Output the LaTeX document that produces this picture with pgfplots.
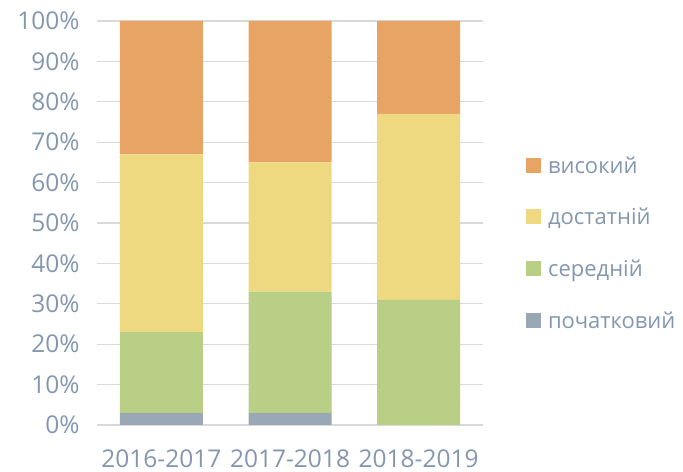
\documentclass[border=0pt]{standalone}
\usepackage{pgfplots}
\pgfplotsset{compat=1.18}
\usepackage{fontspec}
\setmainfont{Open Sans}
\definecolor{txt}{HTML}{8497B0}
\definecolor{gridc}{HTML}{D9D9D9}
\definecolor{cpoch}{HTML}{9AA8B5}
\definecolor{cser}{HTML}{B9CF85}
\definecolor{cdost}{HTML}{EED980}
\definecolor{cvys}{HTML}{E8A464}
\begin{document}
\begin{tikzpicture}
\path (0,0) rectangle (683bp,472bp);
\begin{axis}[
  at={(97bp,47bp)}, anchor=south west,
  scale only axis,
  width=386bp, height=404bp,
  ybar stacked,
  bar width=83bp,
  xmin=-0.5, xmax=2.5,
  ymin=0, ymax=100,
  xtick={0,1,2},
  xticklabels={2016-2017,2017-2018,2018-2019},
  ytick={0,10,...,100},
  yticklabel={\pgfmathprintnumber{\tick}\%},
  /pgf/number format/assume math mode=true,
  ymajorgrids,
  grid style={gridc, line width=1.2bp},
  axis line style={draw=none},
  major tick length=0pt,
  tick label style={text=txt, font=\fontsize{24.5bp}{26bp}\selectfont},
  yticklabel style={xshift=-14bp},
  xticklabel style={yshift=-21bp},
  legend style={draw=none, fill=none, at={(1.111,0.45)}, anchor=west,
    font=\fontsize{22bp}{24bp}\selectfont, text=txt,
    row sep=29.5bp, cells={anchor=west}, inner sep=0pt},
  legend image code/.code={\fill[#1] (0bp,-7bp) rectangle (15bp,8bp); \path (20bp,0bp);},
  reverse legend,
]
\addplot[fill=cpoch, draw=none] coordinates {(0,3) (1,3) (2,0)};
\addplot[fill=cser, draw=none] coordinates {(0,20) (1,30) (2,31)};
\addplot[fill=cdost, draw=none] coordinates {(0,44) (1,32) (2,46)};
\addplot[fill=cvys, draw=none] coordinates {(0,33) (1,35) (2,23)};
\legend{початковий, середній, достатній, високий}
\end{axis}
\end{tikzpicture}
\end{document}
